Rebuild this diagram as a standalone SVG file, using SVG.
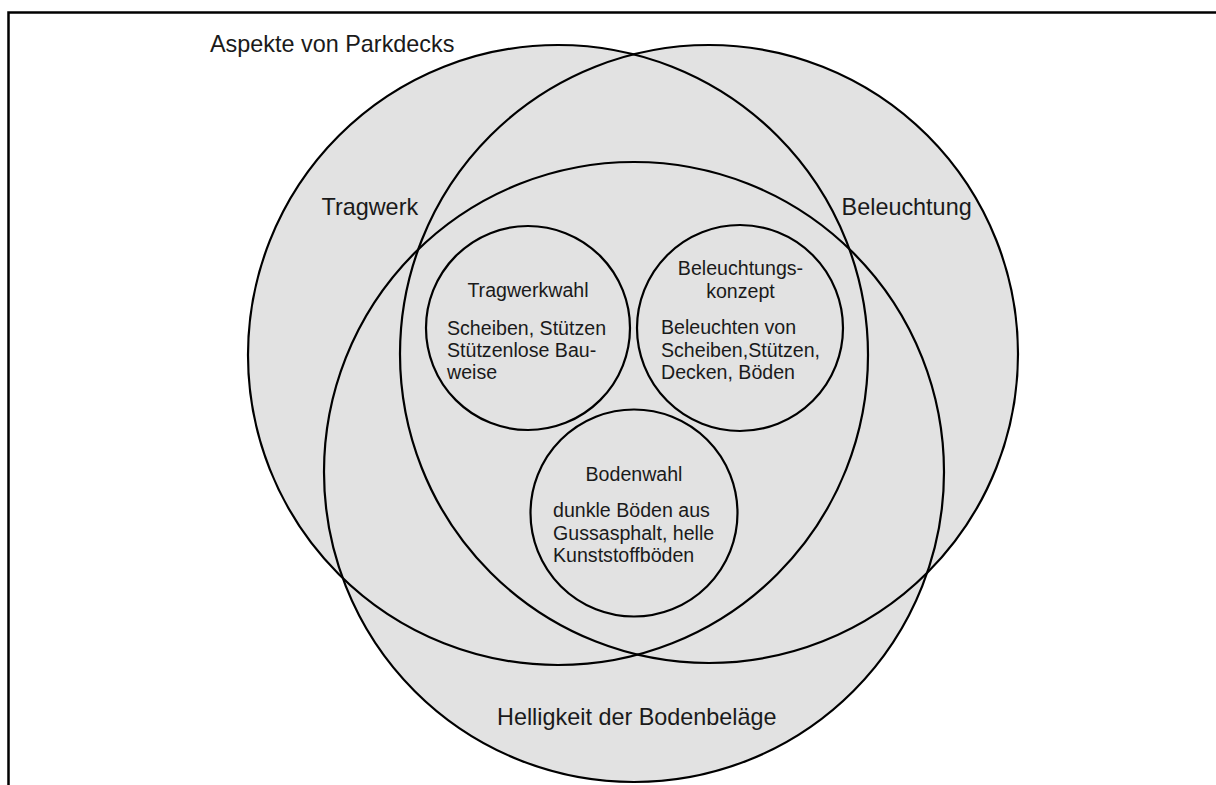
<svg xmlns="http://www.w3.org/2000/svg" width="1216" height="785" viewBox="0 0 1216 785">
  <style>
    .fill { fill: #e2e2e2; stroke: none; }
    .ring { fill: none; stroke: #000; stroke-width: 2.2; }
    .inner { fill: #e2e2e2; stroke: #000; stroke-width: 2.2; }
    .big { font-family: "Liberation Sans", Arial, sans-serif; font-size: 23.4px; fill: #1a1a1a; }
    .small { font-family: "Liberation Sans", Arial, sans-serif; font-size: 19.6px; fill: #1a1a1a; }
    .frame { fill: none; stroke: #000; stroke-width: 2.5; }
  </style>
  <rect x="0" y="0" width="1216" height="785" fill="#ffffff"/>
  <path class="frame" d="M 8.5 785 L 8.5 12.5 L 1216 12.5"/>
  <text class="big" x="210" y="52">Aspekte von Parkdecks</text>

  <g id="fills">
    <circle class="fill" cx="558" cy="355" r="310"/>
    <circle class="fill" cx="709" cy="354" r="309"/>
    <circle class="fill" cx="634" cy="472" r="310"/>
  </g>

  <g id="tragwerk">
    <circle class="ring" cx="558" cy="355" r="310"/>
    <text class="big" x="321.5" y="215">Tragwerk</text>
  </g>
  <g id="beleuchtung">
    <circle class="ring" cx="709" cy="354" r="309"/>
    <text class="big" x="841.6" y="215">Beleuchtung</text>
  </g>
  <g id="helligkeit">
    <circle class="ring" cx="634" cy="472" r="310"/>
    <text class="big" x="497" y="725">Helligkeit der Bodenbeläge</text>
  </g>

  <g id="tragwerkwahl">
    <circle class="inner" cx="528" cy="328" r="102"/>
    <text class="small" x="528" y="297" text-anchor="middle">Tragwerkwahl</text>
    <text class="small" x="447" y="335">Scheiben, Stützen</text>
    <text class="small" x="447" y="357">Stützenlose Bau-</text>
    <text class="small" x="447" y="379">weise</text>
  </g>
  <g id="beleuchtungskonzept">
    <circle class="inner" cx="740" cy="328" r="103"/>
    <text class="small" x="740.5" y="275" text-anchor="middle">Beleuchtungs-</text>
    <text class="small" x="740.5" y="297.5" text-anchor="middle">konzept</text>
    <text class="small" x="661" y="334">Beleuchten von</text>
    <text class="small" x="661" y="357">Scheiben,Stützen,</text>
    <text class="small" x="661" y="379">Decken, Böden</text>
  </g>
  <g id="bodenwahl">
    <circle class="inner" cx="634" cy="513" r="103.5"/>
    <text class="small" x="634" y="481" text-anchor="middle">Bodenwahl</text>
    <text class="small" x="553" y="517">dunkle Böden aus</text>
    <text class="small" x="553" y="539.5">Gussasphalt, helle</text>
    <text class="small" x="553" y="562">Kunststoffböden</text>
  </g>

  <g id="connectors"></g>
</svg>
